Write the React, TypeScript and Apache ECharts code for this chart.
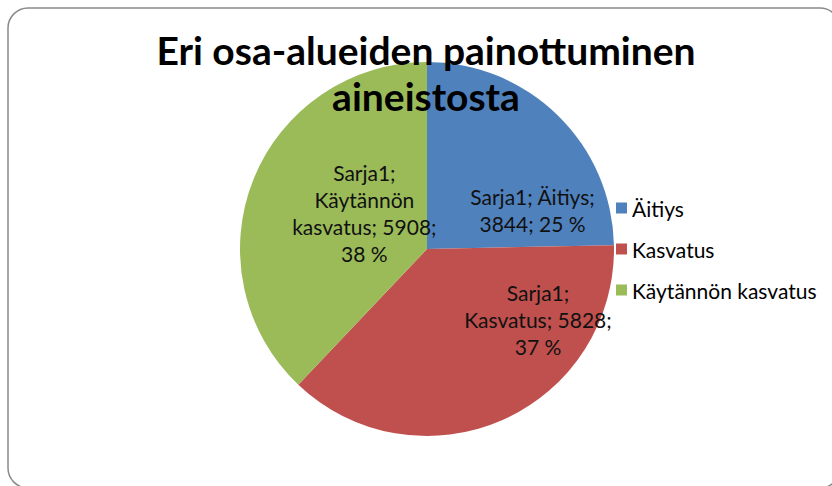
import React, { useEffect, useRef } from "react";
import * as echarts from "echarts";

const titleLines = ["Eri osa-alueiden painottuminen", "aineistosta"];
const seriesName = "Sarja1";
const categories = ["Äitiys", "Kasvatus", "Käytännön kasvatus"];
const values = [3844, 5828, 5908];
const colors = ["#4F81BD", "#C0504D", "#9BBB59"];

// label offsets from the default inside position (layout only)
const labelShift = [
  { dx: 38, dy: 30 },
  { dx: 72, dy: -18 },
  { dx: 27, dy: 0 },
];

const FONT = "Lato, 'Noto Sans', sans-serif";

export default function App() {
  const ref = useRef<HTMLDivElement>(null);
  useEffect(() => {
    document.body.style.margin = "0";
    const chart = echarts.init(ref.current!, null, { renderer: "svg" });
    chart.setOption({
      animation: false,
      backgroundColor: "#ffffff",
      graphic: [
        {
          type: "rect",
          shape: { x: 8, y: 8, width: 832, height: 480, r: 20 },
          style: { fill: "none", stroke: "#8a8a8a", lineWidth: 1.5 },
          z: 0,
        },
      ],
      title: {
        text: titleLines.join("\n"),
        left: 426,
        top: 27,
        padding: 0,
        textAlign: "center",
        textStyle: {
          fontFamily: FONT,
          fontSize: 39,
          fontWeight: "bold",
          color: "#000",
          lineHeight: 46,
        },
        z: 10,
      },
      legend: {
        orient: "vertical",
        left: 616,
        top: 197,
        padding: 0,
        icon: "rect",
        itemWidth: 11,
        itemHeight: 11,
        itemGap: 19,
        data: categories,
        textStyle: { fontFamily: FONT, fontSize: 21, color: "#000", lineHeight: 22 },
      },
      series: [
        {
          type: "pie",
          name: seriesName,
          center: [427, 249],
          radius: 187,
          startAngle: 90,
          clockwise: true,
          z: 2,
          data: categories.map((c, i) => ({
            name: c,
            value: values[i],
            itemStyle: { color: colors[i] },
          })),
          label: {
            show: true,
            position: "inside",
            fontFamily: FONT,
            fontSize: 21,
            lineHeight: 27,
            color: "#111",
            align: "center",
            verticalAlign: "middle",
            formatter: (p: any) => {
              const pct = Math.round(p.percent) + " %";
              if (p.dataIndex === 0) return `${p.seriesName}; ${p.name};\n${p.value}; ${pct}`;
              if (p.dataIndex === 1) return `${p.seriesName};\n${p.name}; ${p.value};\n${pct}`;
              return `${p.seriesName};\n${String(p.name).replace(" ", "\n")}; ${p.value};\n${pct}`;
            },
          },
          labelLine: { show: false },
          emphasis: { disabled: true },
          labelLayout: (params: any) => {
            const s = labelShift[params.dataIndex];
            const r = params.labelRect;
            if (!s || !r) return {};
            return {
              x: r.x + r.width / 2 + s.dx,
              y: r.y + r.height / 2 + s.dy,
            };
          },
        },
      ],
    });
    return () => chart.dispose();
  }, []);
  return <div ref={ref} style={{ width: 832, height: 486 }} />;
}
